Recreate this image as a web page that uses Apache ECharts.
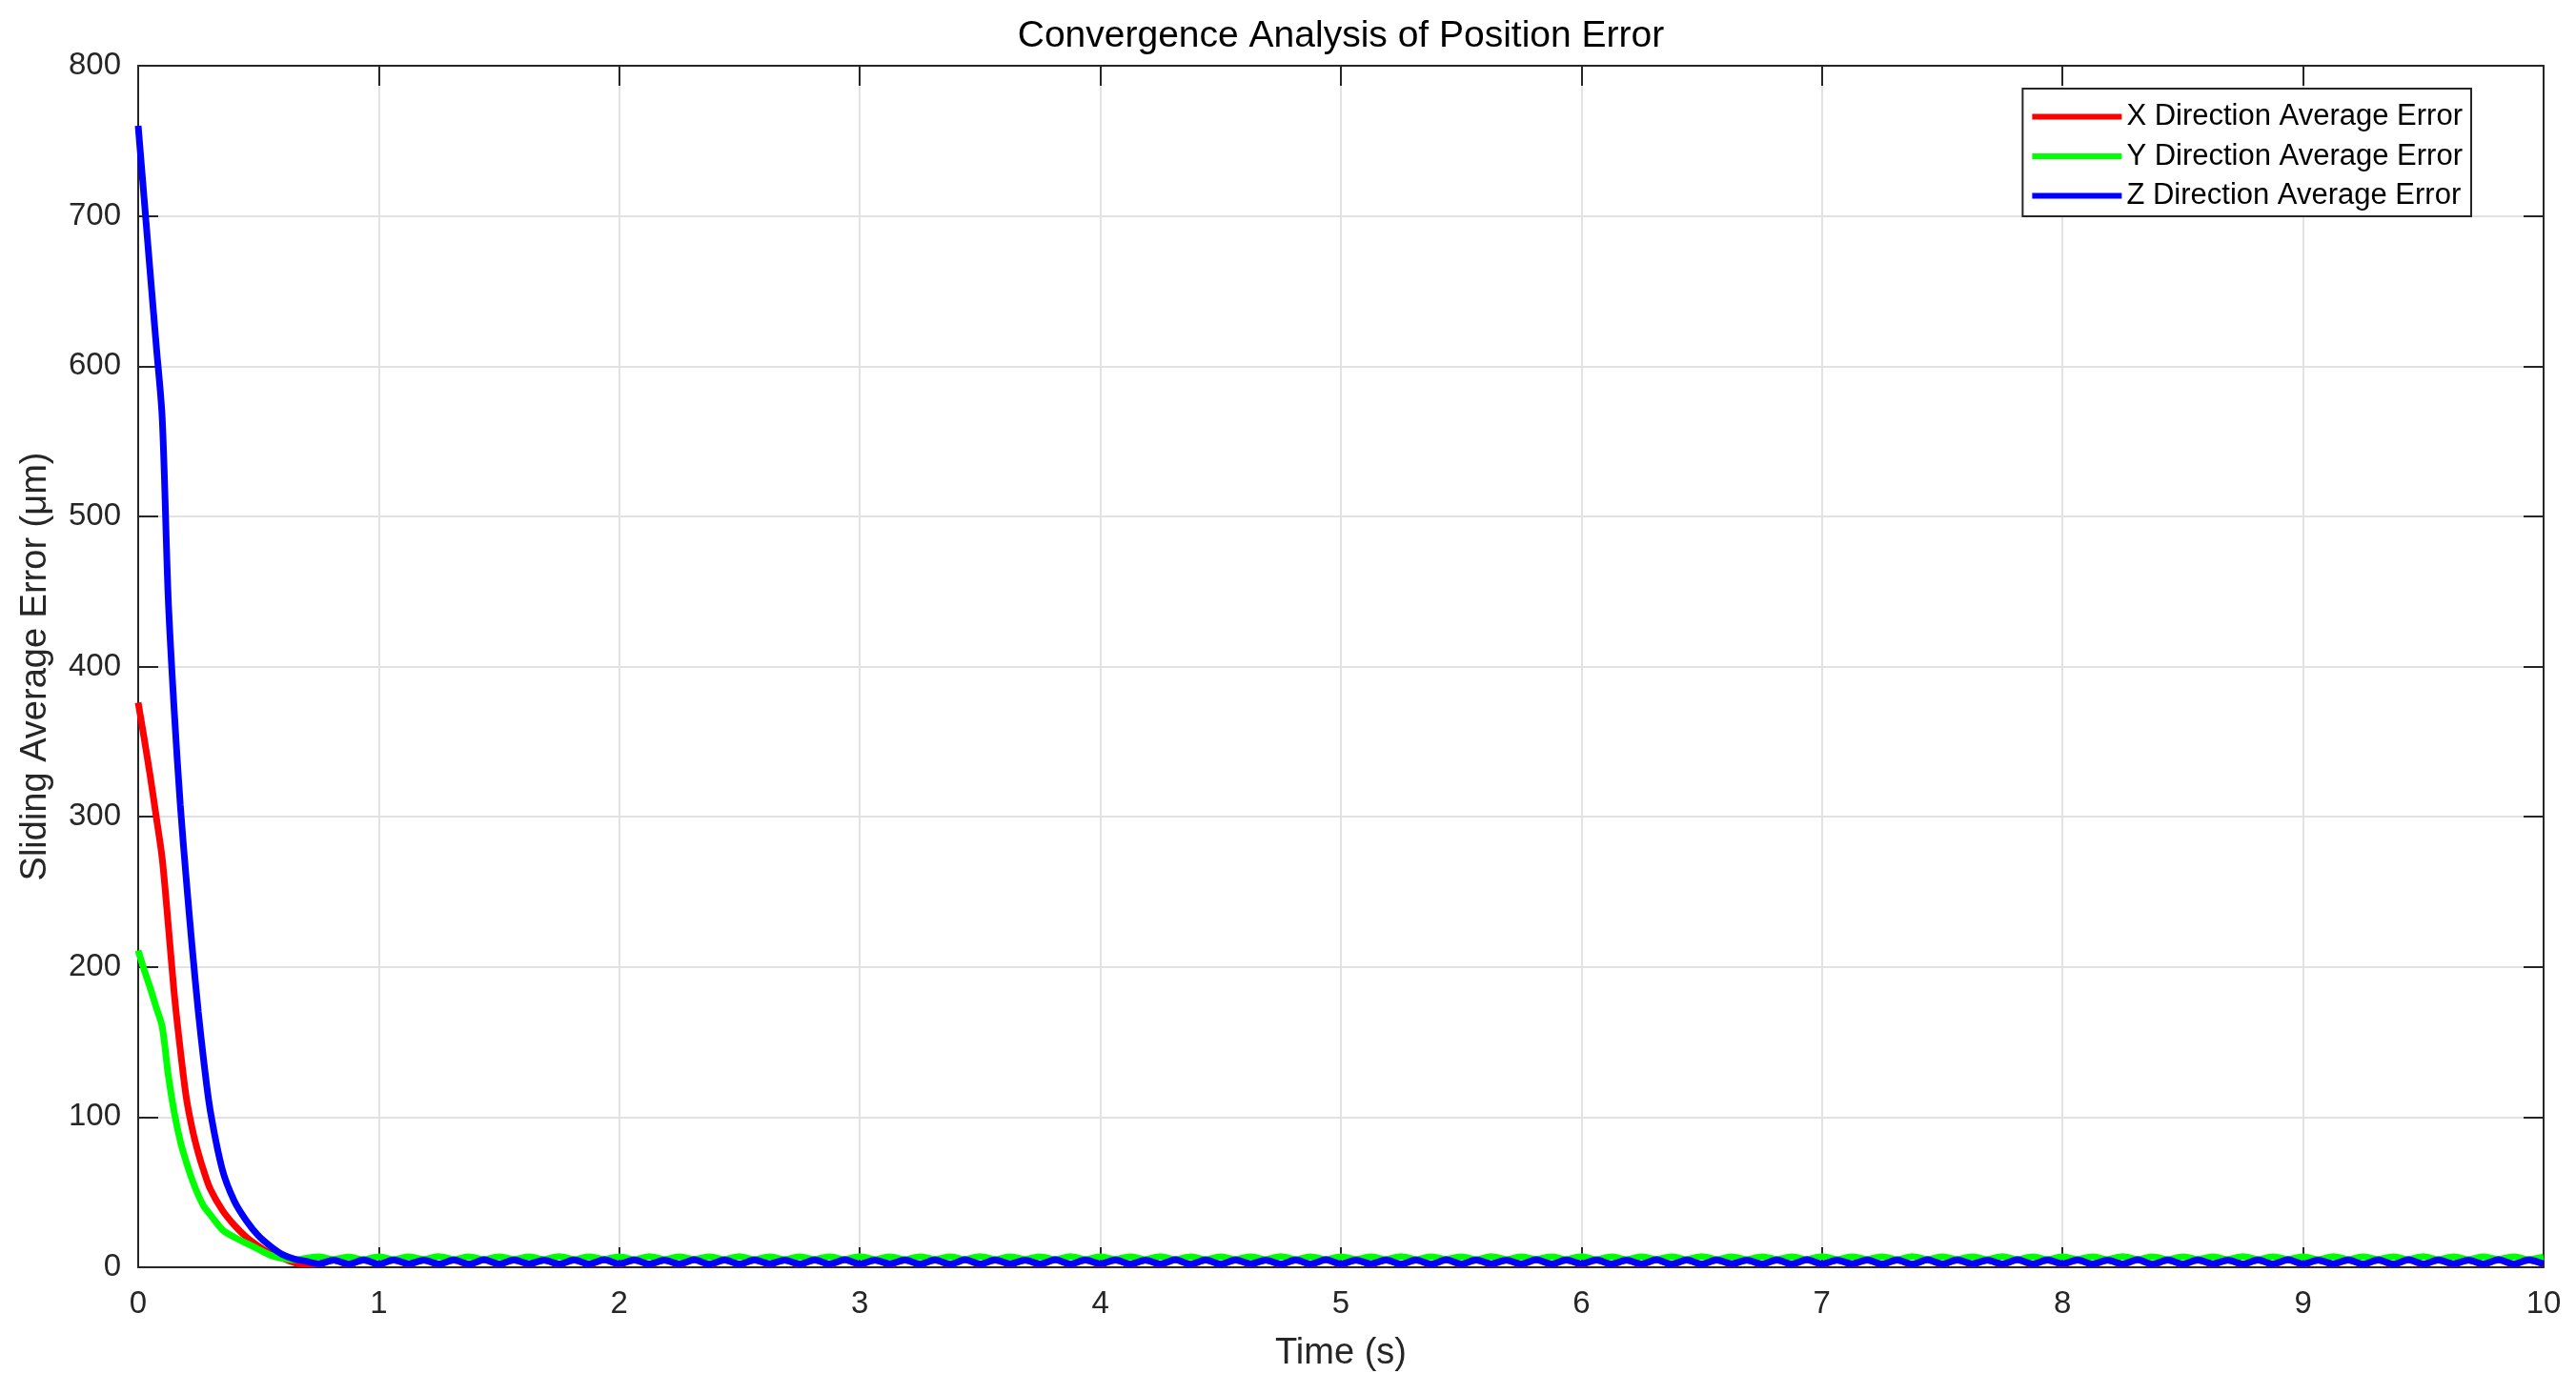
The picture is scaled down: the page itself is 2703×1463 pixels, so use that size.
<!DOCTYPE html>
<html>
<head>
<meta charset="utf-8">
<script src="https://cdn.jsdelivr.net/npm/echarts@6/dist/echarts.min.js"></script>
<style>
html,body{margin:0;padding:0;background:#fff;}
#chart{width:2703px;height:1463px;}
</style>
</head>
<body>
<div id="chart"></div>
<script>
// ---- data ----
const seriesNames = ['X Direction Average Error', 'Y Direction Average Error', 'Z Direction Average Error'];
const xTicks = [0, 1, 2, 3, 4, 5, 6, 7, 8, 9, 10];
const yTicks = [0, 100, 200, 300, 400, 500, 600, 700, 800];

// transient part (s)
const headTime = [0,0.025,0.05,0.075,0.1,0.125,0.15,0.175,0.2,0.225,0.25,0.275,0.3,0.35,0.4,0.45,0.5,0.55,0.6,0.65,0.7];
const xHead = [376,352,327,300,272,228,182,145,113,92,76,63,52,38,28,20,14,9,6,3,2];
const yHead = [211,198,186,173,160,128,103,84,70,58,48,40,35,25,20,16,12,8,6,5,6];
const zHead = [760,711,662,614,565,445,370,308,258,212,170,134,104,65,44,31,21,14,8.5,5.5,4];

// converged part (s)
const tailTime = [
0.75,0.8125,0.875,0.9375,
1,1.0625,1.125,1.1875,1.25,1.3125,1.375,1.4375,1.5,1.5625,1.625,1.6875,1.75,1.8125,1.875,1.9375,
2,2.0625,2.125,2.1875,2.25,2.3125,2.375,2.4375,2.5,2.5625,2.625,2.6875,2.75,2.8125,2.875,2.9375,
3,3.0625,3.125,3.1875,3.25,3.3125,3.375,3.4375,3.5,3.5625,3.625,3.6875,3.75,3.8125,3.875,3.9375,
4,4.0625,4.125,4.1875,4.25,4.3125,4.375,4.4375,4.5,4.5625,4.625,4.6875,4.75,4.8125,4.875,4.9375,
5,5.0625,5.125,5.1875,5.25,5.3125,5.375,5.4375,5.5,5.5625,5.625,5.6875,5.75,5.8125,5.875,5.9375,
6,6.0625,6.125,6.1875,6.25,6.3125,6.375,6.4375,6.5,6.5625,6.625,6.6875,6.75,6.8125,6.875,6.9375,
7,7.0625,7.125,7.1875,7.25,7.3125,7.375,7.4375,7.5,7.5625,7.625,7.6875,7.75,7.8125,7.875,7.9375,
8,8.0625,8.125,8.1875,8.25,8.3125,8.375,8.4375,8.5,8.5625,8.625,8.6875,8.75,8.8125,8.875,8.9375,
9,9.0625,9.125,9.1875,9.25,9.3125,9.375,9.4375,9.5,9.5625,9.625,9.6875,9.75,9.8125,9.875,9.9375,
10];
// X error lies hidden beneath the Z curve in the converged part
const xTail = [
2.2,4.7,2.1,4.8,
2.1,4.8,2.2,4.7,2.1,4.8,2.0,4.9,2.1,4.8,2.2,4.7,2.1,4.8,2.1,4.9,
2.2,4.8,2.1,4.7,2.1,4.9,2.0,4.8,2.1,4.8,2.2,4.7,2.1,4.8,2.1,4.9,
2.1,4.7,2.2,4.8,2.1,4.8,2.0,4.9,2.1,4.8,2.2,4.7,2.1,4.9,2.1,4.8,
2.2,4.8,2.1,4.7,2.1,4.9,2.0,4.8,2.1,4.8,2.2,4.7,2.1,4.8,2.1,4.9,
2.1,4.7,2.2,4.8,2.1,4.8,2.0,4.9,2.1,4.8,2.2,4.7,2.1,4.9,2.1,4.8,
2.2,4.8,2.1,4.7,2.1,4.9,2.0,4.8,2.1,4.8,2.2,4.7,2.1,4.8,2.1,4.9,
2.1,4.7,2.2,4.8,2.1,4.8,2.0,4.9,2.1,4.8,2.2,4.7,2.1,4.9,2.1,4.8,
2.2,4.8,2.1,4.7,2.1,4.9,2.0,4.8,2.1,4.8,2.2,4.7,2.1,4.8,2.1,4.9,
2.1,4.7,2.2,4.8,2.1,4.8,2.0,4.9,2.1,4.8,2.2,4.7,2.1,4.9,2.1,4.8,
2.2];
const yTail = [
6.9,5.3,6.8,5.2,
7.0,5.3,6.9,5.4,7.1,5.3,7.0,5.2,7.0,5.4,6.9,5.3,7.1,5.3,7.0,5.4,
7.0,5.2,7.1,5.3,6.9,5.4,7.0,5.3,7.1,5.2,7.0,5.3,6.9,5.4,7.0,5.3,
7.1,5.3,7.0,5.2,7.0,5.4,6.9,5.3,7.1,5.3,7.0,5.4,7.0,5.2,7.1,5.3,
6.9,5.4,7.0,5.3,7.1,5.2,7.0,5.3,6.9,5.4,7.0,5.3,7.1,5.3,7.0,5.2,
7.0,5.4,6.9,5.3,7.1,5.3,7.0,5.4,7.0,5.2,7.1,5.3,6.9,5.4,7.0,5.3,
7.1,5.2,7.0,5.3,6.9,5.4,7.0,5.3,7.1,5.3,7.0,5.2,7.0,5.4,6.9,5.3,
7.1,5.3,7.0,5.4,7.0,5.2,7.1,5.3,6.9,5.4,7.0,5.3,7.1,5.2,7.0,5.3,
6.9,5.4,7.0,5.3,7.1,5.3,7.0,5.2,7.0,5.4,6.9,5.3,7.1,5.3,7.0,5.4,
7.0,5.2,7.1,5.3,6.9,5.4,7.0,5.3,7.1,5.2,7.0,5.3,6.9,5.4,7.0,5.3,
6.9];
const zTail = [
2.3,4.8,2.2,4.9,
2.2,4.9,2.3,4.8,2.2,4.9,2.1,5.0,2.2,4.9,2.3,4.8,2.2,4.9,2.2,5.0,
2.3,4.9,2.2,4.8,2.2,5.0,2.1,4.9,2.2,4.9,2.3,4.8,2.2,4.9,2.2,5.0,
2.2,4.8,2.3,4.9,2.2,4.9,2.1,5.0,2.2,4.9,2.3,4.8,2.2,5.0,2.2,4.9,
2.3,4.9,2.2,4.8,2.2,5.0,2.1,4.9,2.2,4.9,2.3,4.8,2.2,4.9,2.2,5.0,
2.2,4.8,2.3,4.9,2.2,4.9,2.1,5.0,2.2,4.9,2.3,4.8,2.2,5.0,2.2,4.9,
2.3,4.9,2.2,4.8,2.2,5.0,2.1,4.9,2.2,4.9,2.3,4.8,2.2,4.9,2.2,5.0,
2.2,4.8,2.3,4.9,2.2,4.9,2.1,5.0,2.2,4.9,2.3,4.8,2.2,5.0,2.2,4.9,
2.3,4.9,2.2,4.8,2.2,5.0,2.1,4.9,2.2,4.9,2.3,4.8,2.2,4.9,2.2,5.0,
2.2,4.8,2.3,4.9,2.2,4.9,2.1,5.0,2.2,4.9,2.3,4.8,2.2,5.0,2.2,4.9,
2.3];

// ---- build ----
const FONT = '"Liberation Sans", Arial, Helvetica, sans-serif';
const AX = '#262626';
function pairs(headV, tailV) {
  const out = [];
  headTime.forEach((t, i) => out.push([t, headV[i]]));
  tailTime.forEach((t, i) => out.push([t, tailV[i]]));
  return out;
}
const colors = ['#ff0000', '#00ff00', '#0000ff'];
const allData = [pairs(xHead, xTail), pairs(yHead, yTail), pairs(zHead, zTail)];

const chart = echarts.init(document.getElementById('chart'), null, {renderer: 'canvas'});
const baseX = {
  type: 'value', min: xTicks[0], max: xTicks[xTicks.length - 1], interval: 1,
  axisLine: {show: true, onZero: false, lineStyle: {color: AX, width: 2}},
  axisTick: {show: true, inside: true, length: 21, lineStyle: {color: AX, width: 2}},
};
const baseY = {
  type: 'value', min: yTicks[0], max: yTicks[yTicks.length - 1], interval: 100,
  axisLine: {show: true, onZero: false, lineStyle: {color: AX, width: 2}},
  axisTick: {show: true, inside: true, length: 21, lineStyle: {color: AX, width: 2}},
};
chart.setOption({
  animation: false,
  backgroundColor: '#ffffff',
  title: {
    text: 'Convergence Analysis of Position Error',
    left: 1407, top: 19, textAlign: 'center', padding: 0,
    textStyle: {fontFamily: FONT, fontSize: 39, fontWeight: 'normal', color: '#000'}
  },
  grid: {left: 145, right: 34, top: 69, bottom: 133, containLabel: false},
  legend: {
    orient: 'vertical', right: 110, top: 93,
    padding: [14, 9, 6, 10],
    backgroundColor: '#fff', borderColor: AX, borderWidth: 2,
    itemWidth: 94, itemHeight: 6, itemGap: 10.5, icon: 'rect',
    textStyle: {fontFamily: FONT, fontSize: 31, color: '#000', lineHeight: 30},
    data: seriesNames
  },
  xAxis: [
    Object.assign({}, baseX, {
      position: 'bottom',
      name: 'Time (s)', nameLocation: 'middle', nameGap: 72,
      nameTextStyle: {fontFamily: FONT, fontSize: 38, color: AX},
      axisLabel: {fontFamily: FONT, fontSize: 33, color: AX, margin: 22},
      splitLine: {show: true, lineStyle: {color: '#e2e2e2', width: 2}}
    }),
    Object.assign({}, baseX, {
      position: 'top', axisLabel: {show: false}, splitLine: {show: false}
    })
  ],
  yAxis: [
    Object.assign({}, baseY, {
      position: 'left',
      name: 'Sliding Average Error (\u03bcm)', nameLocation: 'middle', nameGap: 88, nameRotate: 90,
      nameTextStyle: {fontFamily: FONT, fontSize: 38, color: AX},
      axisLabel: {fontFamily: FONT, fontSize: 33, color: AX, margin: 18},
      splitLine: {show: true, lineStyle: {color: '#e2e2e2', width: 2}}
    }),
    Object.assign({}, baseY, {
      position: 'right', axisLabel: {show: false}, splitLine: {show: false}
    })
  ],
  series: seriesNames.map((name, i) => ({
    name: name, type: 'line', xAxisIndex: 0, yAxisIndex: 0,
    data: allData[i], symbol: 'none', showSymbol: false,
    smooth: 0.3, clip: true,
    lineStyle: {color: colors[i], width: 7},
    itemStyle: {color: colors[i]},
    emphasis: {disabled: true}
  }))
});
</script>
</body>
</html>
